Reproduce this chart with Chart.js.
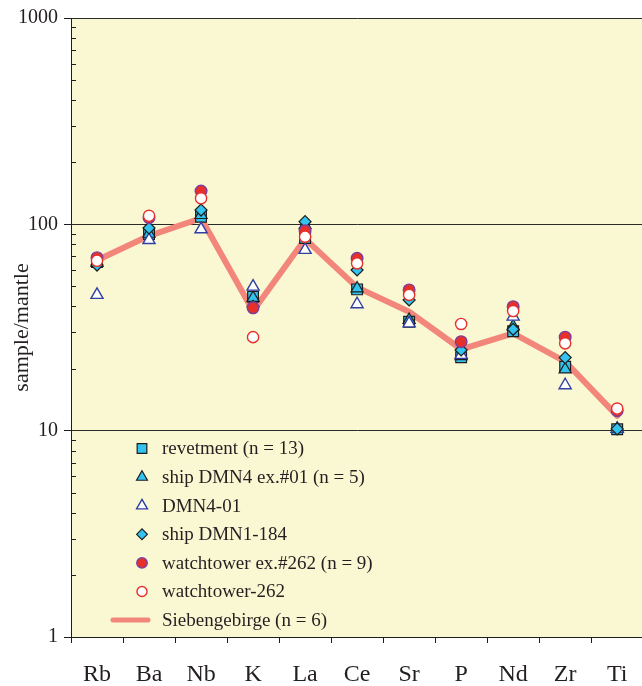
<!DOCTYPE html>
<html>
<head>
<meta charset="utf-8">
<script src="https://cdn.jsdelivr.net/npm/chart.js@4/dist/chart.umd.min.js"></script>
<style>
  html, body { margin: 0; padding: 0; background: #ffffff; overflow: hidden; }
  #wrap { position: relative; width: 642px; height: 686px; overflow: hidden; }
  #c { display: block; }
</style>
</head>
<body>
<div id="wrap"><canvas id="c" width="652" height="686"></canvas></div>
<script>
// Mantle-normalised trace element pattern
const categories = ['Rb', 'Ba', 'Nb', 'K', 'La', 'Ce', 'Sr', 'P', 'Nd', 'Zr', 'Ti'];

const revetment     = [65.7, 89.8, 108.9, 44.6, 85.9, 48.4, 33.7, 22.7, 30.3, 20.4, 10.15];
const shipDMN4      = [65.0, 90.0, 111.0, 44.0, 99.0, 48.9, 34.4, 23.0, 32.0, 19.8, 10.2];
const dmn4_01       = [45.5, 83.9, 94.6, 49.9, 75.2, 41.0, 33.1, 23.3, 35.7, 16.6, 10.2];
const shipDMN1_184  = [63.5, 96.0, 117.3, 40.0, 103.0, 60.1, 43.0, 24.6, 31.0, 22.6, 10.2];
const watchtowerEx  = [68.9, 107.7, 145.0, 39.4, 93.1, 68.5, 48.1, 27.0, 39.9, 28.4, 12.5];
const watchtower262 = [66.6, 110.0, 133.7, 28.4, 87.1, 64.7, 45.5, 32.9, 38.0, 26.5, 12.8];
const siebengebirge = [67.0, 88.0, 107.0, 38.0, 85.0, 49.5, 37.7, 24.8, 29.6, 21.6, 11.8];

const yTickLabels = [1, 10, 100, 1000];

const SERIF = '"Liberation Serif", "DejaVu Serif", serif';
const CYAN = '#33C3EF';
const DARK = '#1E1E1E';
const RED = '#E8302A';
const BLUE = '#2F3FA2';
const SALMON = '#F2867A';
const PLOT_BG = '#FAF8D3';

function pts(style, radius, fill, border, bw, order) {
  return {
    showLine: false,
    pointStyle: style,
    pointRadius: radius,
    pointHoverRadius: radius,
    pointBackgroundColor: fill,
    pointBorderColor: border,
    pointBorderWidth: bw,
    backgroundColor: fill,
    borderColor: border,
    order: order,
    clip: false
  };
}

const datasets = [
  Object.assign({ label: 'revetment (n = 13)', data: revetment }, pts('rect', 7.6, CYAN, DARK, 1.2, 5)),
  Object.assign({ label: 'ship DMN4 ex.#01 (n = 5)', data: shipDMN4 }, pts('triangle', 7, CYAN, DARK, 1.2, 4)),
  Object.assign({ label: 'DMN4-01', data: dmn4_01 }, pts('triangle', 7, '#FFFFFF', BLUE, 1.4, 3)),
  Object.assign({ label: 'ship DMN1-184', data: shipDMN1_184 }, pts('rectRot', 6, CYAN, DARK, 1.2, 2)),
  Object.assign({ label: 'watchtower ex.#262 (n = 9)', data: watchtowerEx }, pts('circle', 5.8, RED, '#7A3F9E', 1.4, 1)),
  Object.assign({ label: 'watchtower-262', data: watchtower262 }, pts('circle', 5.6, '#FFFFFF', RED, 1.4, 0)),
  {
    label: 'Siebengebirge (n = 6)',
    data: siebengebirge,
    showLine: true,
    borderColor: SALMON,
    backgroundColor: SALMON,
    borderWidth: 6,
    borderCapStyle: 'round',
    borderJoinStyle: 'round',
    pointRadius: 0,
    pointHoverRadius: 0,
    tension: 0,
    order: 6
  }
];

// pale plot background
const plotBackground = {
  id: 'plotBackground',
  beforeDraw(chart) {
    const a = chart.chartArea, ctx = chart.ctx;
    ctx.save();
    ctx.fillStyle = PLOT_BG;
    ctx.fillRect(a.left, a.top, a.right - a.left, a.bottom - a.top);
    ctx.restore();
  }
};

// short minor ticks on the inside of the log axis
const minorTicks = {
  id: 'minorTicks',
  beforeDatasetsDraw(chart) {
    const y = chart.scales.y, a = chart.chartArea, ctx = chart.ctx;
    ctx.save();
    ctx.strokeStyle = '#1E1E1E';
    ctx.lineWidth = 1;
    ctx.beginPath();
    for (let d = 1; d < 1000; d *= 10) {
      for (let m = 2; m <= 9; m++) {
        const py = Math.round(y.getPixelForValue(d * m)) + 0.5;
        ctx.moveTo(a.left, py);
        ctx.lineTo(a.left + 5, py);
      }
    }
    ctx.stroke();
    ctx.restore();
  }
};

// legend in the lower-left corner of the plot
const insideLegend = {
  id: 'insideLegend',
  afterDatasetsDraw(chart) {
    const ctx = chart.ctx;
    const markerX = 142, textX = 162, top = 448.5, step = 28.6;
    ctx.save();
    ctx.font = '19px ' + SERIF;
    ctx.textBaseline = 'middle';
    ctx.textAlign = 'left';
    chart.data.datasets.forEach((ds, i) => {
      const cy = top + i * step;
      if (ds.showLine) {
        ctx.strokeStyle = ds.borderColor;
        ctx.lineWidth = 5;
        ctx.lineCap = 'round';
        ctx.beginPath();
        ctx.moveTo(113, cy);
        ctx.lineTo(148, cy);
        ctx.stroke();
      } else {
        ctx.fillStyle = ds.pointBackgroundColor;
        ctx.strokeStyle = ds.pointBorderColor;
        ctx.lineWidth = ds.pointBorderWidth;
        Chart.helpers.drawPoint(ctx, {
          pointStyle: ds.pointStyle,
          radius: ds.pointRadius * 0.9,
          borderWidth: ds.pointBorderWidth,
          rotation: 0
        }, markerX, cy);
      }
      ctx.fillStyle = '#231F20';
      ctx.fillText(ds.label, textX, cy + 1);
    });
    ctx.restore();
  }
};

new Chart(document.getElementById('c'), {
  type: 'line',
  data: { labels: categories, datasets: datasets },
  plugins: [plotBackground, minorTicks, insideLegend],
  options: {
    responsive: false,
    animation: false,
    devicePixelRatio: 1,
    layout: { padding: { top: 18, right: 0, left: 0, bottom: 0 } },
    plugins: { legend: { display: false }, tooltip: { enabled: false } },
    scales: {
      x: {
        type: 'category',
        offset: true,
        grid: {
          offset: true,
          drawOnChartArea: false,
          drawTicks: true,
          tickLength: 6,
          color: '#1E1E1E'
        },
        border: { display: true, color: '#1E1E1E', width: 1 },
        ticks: {
          color: '#231F20',
          font: { family: SERIF, size: 24 },
          padding: 17,
          maxRotation: 0,
          autoSkip: false
        },
        afterFit(scale) {
          scale.height = 49;
        }
      },
      y: {
        type: 'logarithmic',
        min: 1,
        max: 1000,
        position: 'left',
        title: {
          display: true,
          text: 'sample/mantle',
          color: '#231F20',
          font: { family: SERIF, size: 22 },
          padding: { top: 9, bottom: 0 }
        },
        grid: {
          drawOnChartArea: true,
          tickLength: 7,
          color: (c) => yTickLabels.includes(c.tick && c.tick.value) ? '#2A2A2A' : 'rgba(0,0,0,0)',
          tickColor: (c) => yTickLabels.includes(c.tick && c.tick.value) ? '#1E1E1E' : 'rgba(0,0,0,0)'
        },
        border: { display: true, color: '#1E1E1E', width: 1 },
        ticks: {
          color: '#231F20',
          font: { family: SERIF, size: 20 },
          padding: 6,
          autoSkip: false,
          callback: (v) => yTickLabels.includes(v) ? String(v) : ''
        },
        afterFit(scale) { scale.width = 71; }
      }
    }
  }
});
</script>
</body>
</html>
